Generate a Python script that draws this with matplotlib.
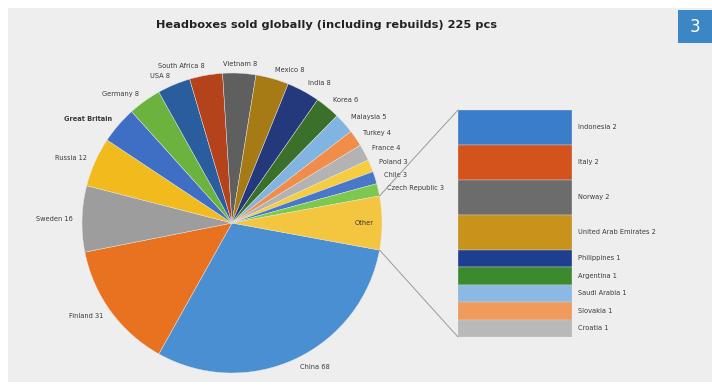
import numpy as np
import matplotlib
matplotlib.use("Agg")
import matplotlib.pyplot as plt
from matplotlib.patches import Rectangle, ConnectionPatch

# pie slices (clockwise, "Other" last)
countries = ["China", "Finland", "Sweden", "Russia", "Great Britain", "Germany", "USA",
             "South Africa", "Vietnam", "Mexico", "India", "Korea", "Malaysia", "Turkey",
             "France", "Poland", "Chile", "Czech Republic", "Other"]
units = [68, 31, 16, 12, 9, 8, 8, 8, 8, 8, 8, 6, 5, 4, 4, 3, 3, 3, 13]
pie_labels = ["China 68", "Finland 31", "Sweden 16", "Russia 12", "Great Britain", "Germany 8",
              "USA 8", "South Africa 8", "Vietnam 8", "Mexico 8", "India 8", "Korea 6",
              "Malaysia 5", "Turkey 4", "France 4", "Poland 3", "Chile 3", "Czech Republic 3",
              "Other"]
pie_colors = ["#4b8fd3", "#e8721f", "#9d9d9d", "#f1bb1d", "#3f6fc5", "#6bb33e", "#2a5d9e",
              "#b4431b", "#5f5f5f", "#a67b15", "#24397b", "#3a7029", "#82b4e1", "#f08d4b",
              "#b3b3b3", "#f6cd40", "#4a78c8", "#7dc950", "#f4c640"]

# breakdown of "Other"
other_names = ["Indonesia 2", "Italy 2", "Norway 2", "United Arab Emirates 2", "Philippines 1",
               "Argentina 1", "Saudi Arabia 1", "Slovakia 1", "Croatia 1"]
other_units = [2, 2, 2, 2, 1, 1, 1, 1, 1]
bar_colors = ["#3a7dc9", "#d4531c", "#6c6c6c", "#c8921b", "#1e3f8f", "#3c8a2e",
              "#8bb9e3", "#f09a5b", "#b9b9b9"]

W, H = 712, 388
fig = plt.figure(figsize=(W / 100, H / 100), dpi=100, facecolor="white")

# grey panel behind everything
bg = fig.add_axes([0, 0, 1, 1])
bg.set_xlim(0, W)
bg.set_ylim(H, 0)
bg.axis("off")
bg.add_patch(Rectangle((8, 8), W - 8, H - 14, facecolor="#eeeeee", edgecolor="none"))
bg.add_patch(Rectangle((678, 10), 34, 33, facecolor="#3d86c6", edgecolor="none"))
bg.text(695, 27, "3", color="white", fontsize=12, ha="center", va="center")
bg.text(327, 25, "Headboxes sold globally (including rebuilds) 225 pcs",
        fontsize=8.2, fontweight="bold", color="#222222", ha="center", va="center")

# pie: centre (232, 223) px, radius 150 px
ax = fig.add_axes([82 / W, (H - 373) / H, 300 / W, 300 / H])
half_other = units[-1] / sum(units) * 180
wedges, _ = ax.pie(units, colors=pie_colors, counterclock=False, startangle=-half_other,
                   radius=1, wedgeprops=dict(edgecolor="#e8e8e8", linewidth=0.3))
ax.set_xlim(-1, 1)
ax.set_ylim(-1, 1)
ax.axis("off")

for w, lab in zip(wedges, pie_labels):
    mid = np.deg2rad((w.theta1 + w.theta2) / 2)
    x, y = np.cos(mid), np.sin(mid)
    if lab == "Other":
        ax.text(0.88 * x, 0.88 * y, lab, fontsize=4.8, color="#3a3a3a", ha="center", va="center")
        continue
    ha = "left" if x > 0.12 else ("right" if x < -0.12 else "center")
    ax.text(1.06 * x, 1.06 * y, lab, fontsize=4.8, color="#3a3a3a", ha=ha, va="center",
            fontweight="bold" if lab == "Great Britain" else "normal", clip_on=False)

# stacked bar for the "Other" slice
bx = fig.add_axes([458 / W, (H - 337) / H, 114 / W, 227 / H])
bx.set_xlim(0, 1)
bx.set_ylim(sum(other_units), 0)
bx.axis("off")
bottom = 0
for name, v, c in zip(other_names, other_units, bar_colors):
    bx.bar(0.5, v, bottom=bottom, width=1, color=c, edgecolor="#d0d0d0", linewidth=0.3)
    bx.text(1.05, bottom + v / 2, name, fontsize=4.8, color="#3a3a3a", ha="left",
            va="center", clip_on=False)
    bottom += v

# connector lines from the "Other" wedge to the bar
ow = wedges[-1]
for ang, corner in [(ow.theta2, (0, 0)), (ow.theta1, (0, sum(other_units)))]:
    a = np.deg2rad(ang)
    con = ConnectionPatch(xyA=(np.cos(a), np.sin(a)), coordsA=ax.transData,
                          xyB=corner, coordsB=bx.transData, color="#9a9a9a", linewidth=0.7)
    fig.add_artist(con)

fig.savefig("out.png", dpi=100, facecolor=fig.get_facecolor())
